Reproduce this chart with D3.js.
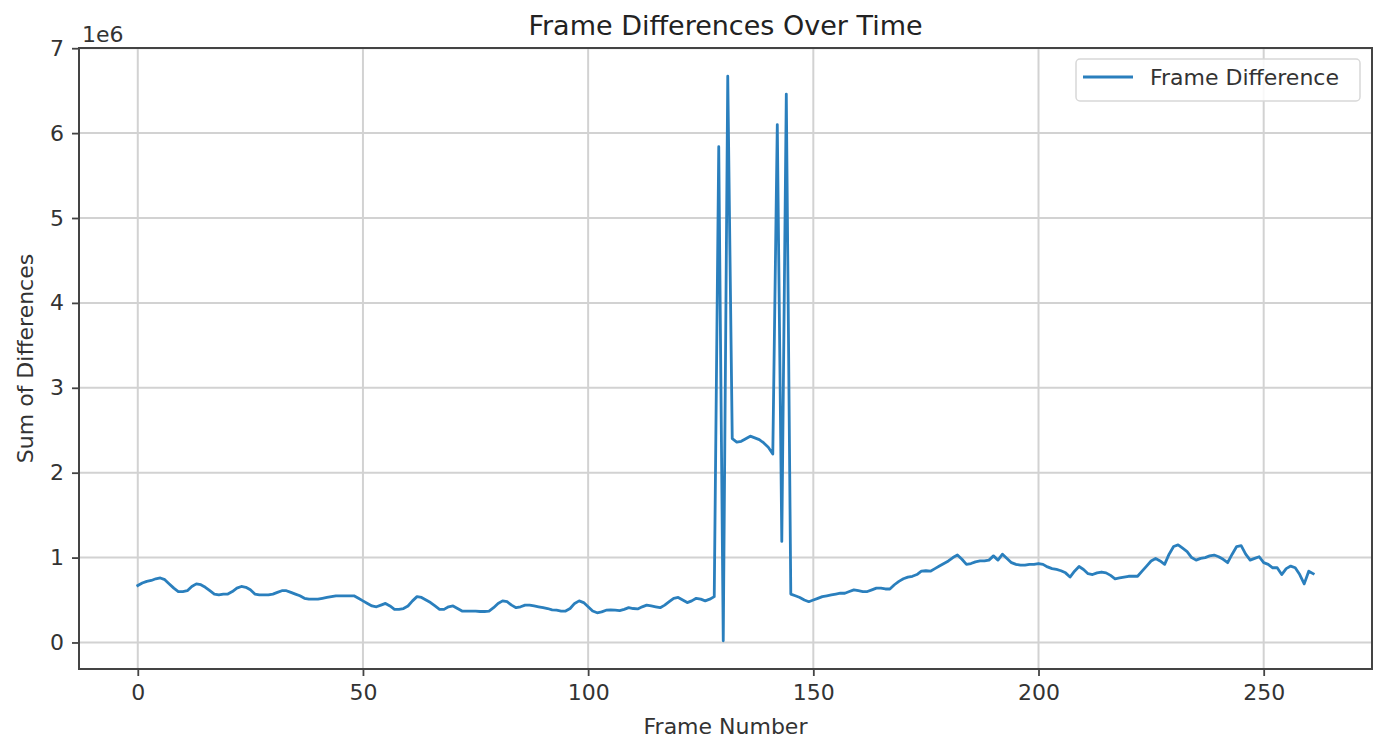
<!DOCTYPE html>
<html>
<head>
<meta charset="utf-8">
<script src="https://cdn.jsdelivr.net/npm/d3@7"></script>
<style>
  html, body { margin: 0; padding: 0; background: #fff; }
  svg { display: block; font-family: "DejaVu Sans", sans-serif; }
</style>
</head>
<body>
<svg id="chart" width="1390" height="748"></svg>
<script>
// ---- data (values in units of 1e6) ----
const title = "Frame Differences Over Time";
const xLabel = "Frame Number";
const yLabel = "Sum of Differences";
const seriesName = "Frame Difference";
const yOffsetText = "1e6";
const xTicks = [0, 50, 100, 150, 200, 250];
const yTicks = [0, 1, 2, 3, 4, 5, 6, 7];
const frameDiff = [
  0.67, 0.70, 0.72, 0.73, 0.75, 0.76, 0.74, 0.69, 0.64, 0.60,
  0.60, 0.61, 0.66, 0.69, 0.68, 0.65, 0.61, 0.57, 0.56, 0.57,
  0.57, 0.60, 0.64, 0.66, 0.65, 0.62, 0.57, 0.56, 0.56, 0.56,
  0.57, 0.59, 0.61, 0.61, 0.59, 0.57, 0.55, 0.52, 0.51, 0.51,
  0.51, 0.52, 0.53, 0.54, 0.55, 0.55, 0.55, 0.55, 0.55, 0.52,
  0.49, 0.46, 0.43, 0.42, 0.44, 0.46, 0.43, 0.39, 0.39, 0.40,
  0.43, 0.49, 0.54, 0.53, 0.50, 0.47, 0.43, 0.39, 0.39, 0.42,
  0.43, 0.40, 0.37, 0.37, 0.37, 0.37, 0.365, 0.365, 0.37, 0.41,
  0.46, 0.49, 0.48, 0.44, 0.41, 0.42, 0.44, 0.44, 0.43, 0.42,
  0.41, 0.40, 0.385, 0.38, 0.37, 0.37, 0.40, 0.46, 0.49, 0.47,
  0.42, 0.37, 0.35, 0.36, 0.38, 0.385, 0.38, 0.375, 0.39, 0.41,
  0.40, 0.395, 0.42, 0.44, 0.43, 0.42, 0.41, 0.44, 0.48, 0.52,
  0.53, 0.50, 0.47, 0.49, 0.52, 0.51, 0.49, 0.51, 0.54, 5.84,
  0.02, 6.67, 2.40, 2.36, 2.37, 2.40, 2.43, 2.41, 2.39, 2.35,
  2.30, 2.22, 6.10, 1.19, 6.46, 0.57, 0.55, 0.53, 0.50, 0.48,
  0.50, 0.52, 0.54, 0.55, 0.56, 0.57, 0.58, 0.58, 0.60, 0.62,
  0.61, 0.60, 0.60, 0.62, 0.64, 0.64, 0.63, 0.63, 0.68, 0.72,
  0.75, 0.77, 0.78, 0.80, 0.84, 0.845, 0.84, 0.87, 0.90, 0.93,
  0.96, 1.00, 1.03, 0.98, 0.92, 0.93, 0.95, 0.96, 0.96, 0.97,
  1.02, 0.97, 1.04, 0.99, 0.94, 0.92, 0.91, 0.91, 0.92, 0.92,
  0.93, 0.92, 0.89, 0.87, 0.86, 0.845, 0.82, 0.77, 0.84, 0.895,
  0.86, 0.81, 0.80, 0.82, 0.83, 0.82, 0.79, 0.75, 0.76, 0.77,
  0.78, 0.78, 0.78, 0.84, 0.90, 0.96, 0.99, 0.96, 0.92, 1.04,
  1.13, 1.15, 1.11, 1.07, 1.00, 0.97, 0.99, 1.00, 1.02, 1.03,
  1.01, 0.98, 0.94, 1.04, 1.13, 1.14, 1.04, 0.97, 0.99, 1.01,
  0.94, 0.92, 0.88, 0.88, 0.80, 0.87, 0.90, 0.88, 0.80, 0.69,
  0.84, 0.81
];
const frames = frameDiff.map((_, i) => i);

// ---- layout ----
const svg = d3.select("#chart");
const L = 79, R = 1372, T = 48, B = 669;
const FS = 22;

const xMin = d3.min(frames), xMax = d3.max(frames);
const xPad = (xMax - xMin) * 0.05;
const yMin = d3.min(frameDiff), yMax = d3.max(frameDiff);
const yPad = (yMax - yMin) * 0.05;

const x = d3.scaleLinear().domain([xMin - xPad, xMax + xPad]).range([L, R]);
const y = d3.scaleLinear().domain([yMin - yPad, yMax + yPad]).range([B, T]);

// grid
const grid = svg.append("g");
grid.selectAll(".gx").data(xTicks).enter().append("line")
  .attr("x1", d => x(d)).attr("x2", d => x(d))
  .attr("y1", T).attr("y2", B)
  .attr("stroke", "#d2d2d2").attr("stroke-width", 2);
grid.selectAll(".gy").data(yTicks).enter().append("line")
  .attr("x1", L).attr("x2", R)
  .attr("y1", d => y(d)).attr("y2", d => y(d))
  .attr("stroke", "#d2d2d2").attr("stroke-width", 2);

// line
const line = d3.line().x((d, i) => x(frames[i])).y(d => y(d));
svg.append("path")
  .datum(frameDiff)
  .attr("fill", "none")
  .attr("stroke", "#2a7fbd")
  .attr("stroke-width", 2.8)
  .attr("stroke-linejoin", "round")
  .attr("stroke-linecap", "square")
  .attr("d", line);

// axes
const xAxis = d3.axisBottom(x).tickValues(xTicks).tickSize(7).tickPadding(8).tickFormat(d3.format("d"));
const yAxis = d3.axisLeft(y).tickValues(yTicks).tickSize(7).tickPadding(8).tickFormat(d3.format("d"));

const gx = svg.append("g").attr("transform", `translate(0,${B})`).call(xAxis);
const gy = svg.append("g").attr("transform", `translate(${L},0)`).call(yAxis);
[gx, gy].forEach(g => {
  g.select(".domain").remove();
  g.selectAll(".tick line").attr("stroke", "#444").attr("stroke-width", 1.8);
  g.selectAll(".tick text").attr("fill", "#333").style("font-size", FS + "px").style("font-family", "DejaVu Sans, sans-serif");
});

// frame (spines)
svg.append("rect")
  .attr("x", L).attr("y", T).attr("width", R - L).attr("height", B - T)
  .attr("fill", "none").attr("stroke", "#444").attr("stroke-width", 2);

// offset text
svg.append("text").attr("x", L + 3).attr("y", T - 6)
  .attr("fill", "#333").style("font-size", FS + "px").text(yOffsetText);

// title
svg.append("text").attr("x", (L + R) / 2).attr("y", 35)
  .attr("text-anchor", "middle").attr("fill", "#222")
  .style("font-size", "27px").text(title);

// axis labels
svg.append("text").attr("x", (L + R) / 2).attr("y", 734)
  .attr("text-anchor", "middle").attr("fill", "#333")
  .style("font-size", FS + "px").text(xLabel);
svg.append("text")
  .attr("transform", `translate(33,${(T + B) / 2}) rotate(-90)`)
  .attr("text-anchor", "middle").attr("fill", "#333")
  .style("font-size", FS + "px").text(yLabel);

// legend
const lg = svg.append("g").attr("transform", "translate(1076,59)");
lg.append("rect").attr("width", 284).attr("height", 42).attr("rx", 4)
  .attr("fill", "#fff").attr("fill-opacity", 0.85)
  .attr("stroke", "#d8d8d8").attr("stroke-width", 1.5);
lg.append("line").attr("x1", 7).attr("x2", 57).attr("y1", 18).attr("y2", 18)
  .attr("stroke", "#2a7fbd").attr("stroke-width", 2.8);
lg.append("text").attr("x", 74).attr("y", 26).attr("fill", "#333")
  .style("font-size", FS + "px").text(seriesName);
</script>
</body>
</html>
